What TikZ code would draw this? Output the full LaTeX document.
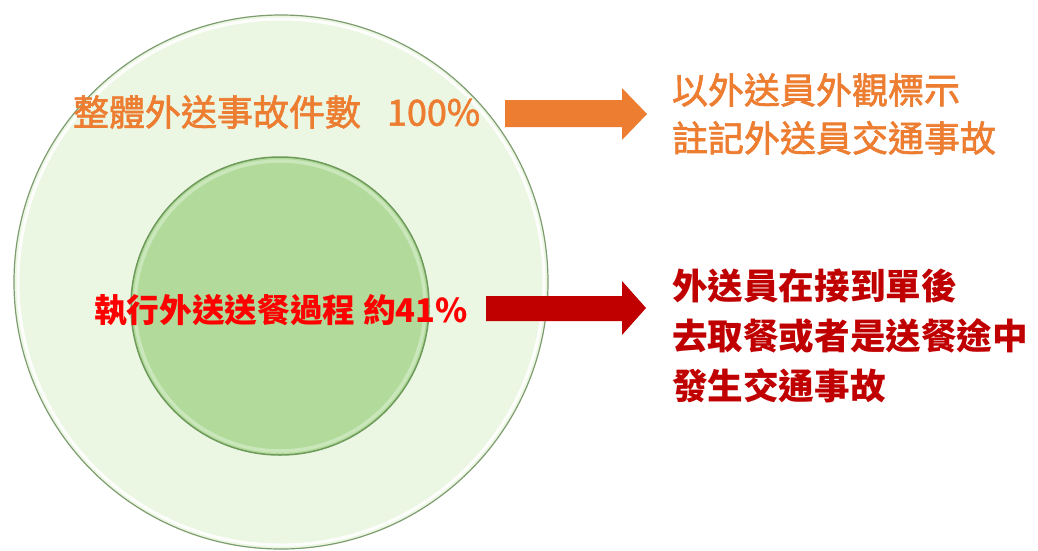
\documentclass[tikz,border=0pt]{standalone}
\usepackage{fontspec}
\newfontfamily\cjk{Noto Sans CJK TC}
\newfontfamily\cjkm{Noto Sans CJK TC}[FakeBold=1.8]
\definecolor{orangeT}{HTML}{ED7D31}
\definecolor{redT}{HTML}{FF0000}
\definecolor{darkRed}{HTML}{C00000}
\definecolor{outerFill}{HTML}{EBF7E3}
\definecolor{outerLine}{HTML}{7E9C70}
\definecolor{innerFill}{HTML}{B2DA9A}
\definecolor{innerLine}{HTML}{6E9A5C}
\definecolor{innerRim}{HTML}{C9E7BA}
\tikzset{
  lbl/.style={inner sep=0pt, outer sep=0pt, anchor=west},
}
\begin{document}
\begin{tikzpicture}[x=1pt,y=-1pt]
\useasboundingbox (0,0) rectangle (1038,550);
\fill[white] (0,0) rectangle (1038,550);
% outer circle
\coordinate (oc) at (281,282);
\fill[outerFill] (oc) circle[radius=267];
\draw[white, line width=3pt, opacity=0.9] (oc) circle[radius=263];
\draw[outerLine, line width=1.2pt] (oc) circle[radius=267];
% inner circle
\coordinate (ic) at (280,306);
\fill[innerFill] (ic) circle[radius=149];
\draw[innerRim, line width=3.5pt] (ic) circle[radius=145];
\draw[innerLine, line width=1.5pt] (ic) circle[radius=149];
% labels
\node[lbl, text=orangeT, font={\cjkm\fontsize{36}{40}\selectfont}] (total) at (73,112)
  {整體外送事故件數\hspace{26pt}100\%};
\node[lbl, text=redT, font={\cjk\bfseries\fontsize{32.7}{36}\selectfont}] (exec) at (94,310)
  {執行外送送餐過程 約41\%};
% arrows
\fill[orangeT] (505,100) -- (622,100) -- (622,88) -- (647,114) -- (622,140) -- (622,127) -- (505,127) -- cycle;
\fill[darkRed] (486,296) -- (622,296) -- (622,281) -- (646,308) -- (622,335) -- (622,321) -- (486,321) -- cycle;
% right texts
\node[lbl, text=orangeT, align=left, font={\cjkm\fontsize{36}{48}\selectfont}] (note1) at (672,114)
  {以外送員外觀標示\\註記外送員交通事故};
\node[lbl, text=darkRed, align=left, font={\cjk\bfseries\fontsize{35.6}{50}\selectfont}] (note2) at (672,336)
  {外送員在接到單後\\去取餐或者是送餐途中\\發生交通事故};
\end{tikzpicture}
\end{document}
